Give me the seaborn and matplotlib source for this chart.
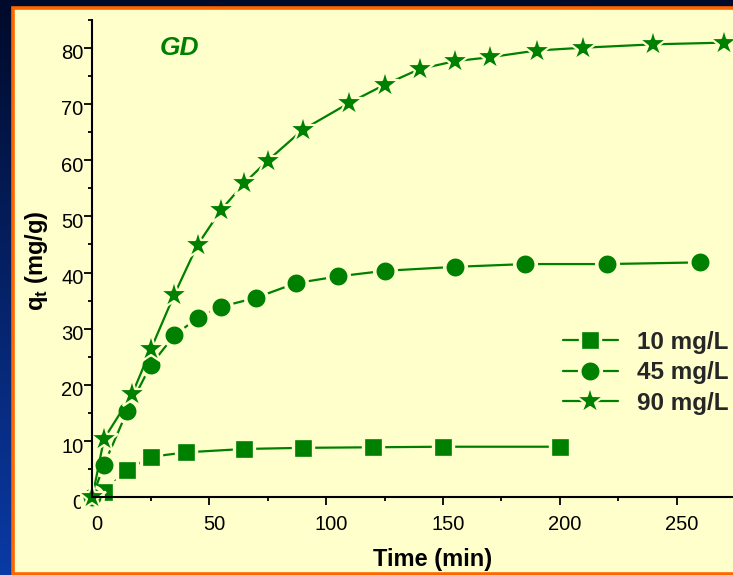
import numpy as np
import matplotlib
matplotlib.use("Agg")
import matplotlib.pyplot as plt
import matplotlib.transforms as mtransforms
from matplotlib.patches import Rectangle
from matplotlib.ticker import MultipleLocator
import seaborn as sns

# kinetic data: time (min) vs q_t (mg/g)
time_10 = [0, 5, 15, 25, 40, 65, 90, 120, 150, 200]
qt_10 = [0, 1.0, 4.9, 7.2, 8.0, 8.6, 8.8, 8.9, 9.0, 9.0]

time_45 = [0, 5, 15, 25, 35, 45, 55, 70, 87, 105, 125, 155, 185, 220, 260]
qt_45 = [0, 5.8, 15.4, 23.5, 28.8, 31.9, 33.9, 35.5, 38.1, 39.3, 40.3, 41.0, 41.5, 41.5, 41.8]

time_90 = [0, 5, 17, 25, 35, 45, 55, 65, 75, 90, 110, 125, 140, 155, 170, 190, 210, 240, 270]
qt_90 = [0, 10.4, 18.3, 26.3, 36.0, 44.9, 51.1, 55.9, 59.9, 65.4, 70.2, 73.4, 76.2, 77.6,
         78.3, 79.5, 80.0, 80.6, 80.9]

series_labels = ["10 mg/L", "45 mg/L", "90 mg/L"]
x_ticks = [0, 50, 100, 150, 200, 250]
y_ticks = [0, 10, 20, 30, 40, 50, 60, 70, 80]

GREEN = "#008000"
PANEL = "#FFFFCC"
ORANGE = "#FF6600"

sns.set_theme(style="ticks")
plt.rcParams["font.family"] = ["Liberation Sans", "DejaVu Sans"]
plt.rcParams["mathtext.fontset"] = "custom"
plt.rcParams["mathtext.rm"] = "Liberation Sans"
plt.rcParams["mathtext.bf"] = "Liberation Sans:bold"

W, H = 733, 575
fig = plt.figure(figsize=(W / 100, H / 100), dpi=100)

# slide background: dark blue gradient + yellow panel with orange border
bg = fig.add_axes([0, 0, 1, 1])
bg.set_xlim(0, W)
bg.set_ylim(H, 0)
bg.axis("off")
top = np.array([0, 10, 42]) / 255
bot = np.array([10, 58, 165]) / 255
t = np.linspace(0, 1, 256)[:, None, None]
grad = top * (1 - t) + bot * t
grad = np.repeat(grad, 2, axis=1)
bg.imshow(grad, extent=[0, W, H, 0], aspect="auto", zorder=0)
bg.add_patch(Rectangle((13, 7.5), 760, 566, facecolor=PANEL, edgecolor=ORANGE,
                       linewidth=2.6, zorder=1))

# main axes, origin placed where the reference has it
x0, y0 = 92.3, 497.3
px_x, px_y = 2.338, 5.62
xmax, ymax = 300, 85
ax = fig.add_axes([x0 / W, (H - y0) / H, xmax * px_x / W, ymax * px_y / H])
ax.set_facecolor("none")

common = dict(color=GREEN, linewidth=1.6, markeredgecolor=PANEL, clip_on=False, ax=ax)
sns.lineplot(x=time_10, y=qt_10, marker="s", markersize=14.5, markeredgewidth=2.4,
             label=series_labels[0], **common)
sns.lineplot(x=time_45, y=qt_45, marker="o", markersize=15.5, markeredgewidth=2.6,
             label=series_labels[1], **common)
sns.lineplot(x=time_90, y=qt_90, marker="*", markersize=21, markeredgewidth=1.6,
             label=series_labels[2], **common)

ax.set_xlim(0, xmax)
ax.set_ylim(0, ymax)
ax.set_xticks(x_ticks)
ax.set_yticks(y_ticks)
ax.xaxis.set_minor_locator(MultipleLocator(25))
ax.yaxis.set_minor_locator(MultipleLocator(5))
ax.set_xlabel("")
ax.set_ylabel("")
sns.despine(ax=ax)
for side in ["left", "bottom"]:
    ax.spines[side].set_linewidth(1.5)
    ax.spines[side].set_color("black")
ax.tick_params(which="major", length=5.8, width=1.3, color="black", labelsize=14.5,
               labelcolor="black", direction="out")
ax.tick_params(which="minor", length=3, width=1.3, color="black", direction="out")
ax.tick_params(axis="x", which="major", pad=7)
ax.tick_params(axis="y", which="major", pad=0.5)

# the reference tick labels sit a bit off their ticks
dx = mtransforms.ScaledTranslation(5 / 100, 0, fig.dpi_scale_trans)
dy = mtransforms.ScaledTranslation(0, -4 / 100, fig.dpi_scale_trans)
for tk in ax.xaxis.get_major_ticks():
    tk.label1.set_transform(tk.label1.get_transform() + dx)
for tk in ax.yaxis.get_major_ticks():
    tk.label1.set_transform(tk.label1.get_transform() + dy)

leg = ax.legend(loc="upper left", bbox_to_anchor=(563 / W, 1 - 331 / H),
                bbox_transform=fig.transFigure, frameon=False, numpoints=1,
                handlelength=2.25, handletextpad=0.8, labelspacing=0.3,
                borderpad=0, borderaxespad=0,
                prop={"size": 17.5, "weight": "bold"})

fig.text(160 / W, 1 - 55 / H, "GD", color=GREEN, fontsize=19, fontweight="bold",
         fontstyle="italic", ha="left", va="baseline")
fig.text(432.5 / W, 1 - 566 / H, "Time (min)", fontsize=17, fontweight="bold",
         ha="center", va="baseline", color="black")
fig.text(36.5 / W, 1 - 261 / H, r"q$_\mathbf{t}$ (mg/g)", fontsize=17, fontweight="bold",
         rotation=90, ha="center", va="center", color="black")

fig.savefig("out.png", dpi=100)
